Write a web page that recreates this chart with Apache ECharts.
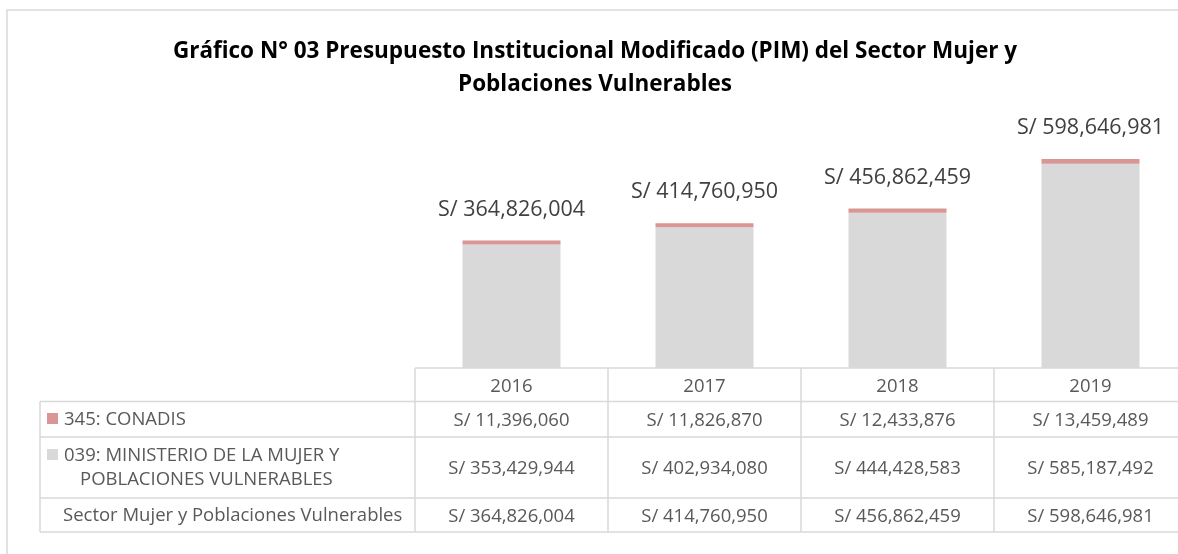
<!DOCTYPE html>
<html>
<head>
<meta charset="utf-8">
<script src="https://cdn.jsdelivr.net/npm/echarts@6/dist/echarts.min.js"></script>
<style>
html,body{margin:0;padding:0;background:#fff;overflow:hidden}
#main{width:1190px;height:554px}
</style>
</head>
<body>
<div id="main"></div>
<script>
const years = ['2016', '2017', '2018', '2019']
const conadis = [11396060, 11826870, 12433876, 13459489]
const ministerio = [353429944, 402934080, 444428583, 585187492]
const totals = [364826004, 414760950, 456862459, 598646981]
const rowNames = ['345: CONADIS', '039: MINISTERIO DE LA MUJER Y', 'POBLACIONES VULNERABLES', 'Sector Mujer y Poblaciones Vulnerables']

const font = 'Open Sans'
const gray = '#d9d9d9'
const pink = '#da9694'
const txt = '#595959'
const fmt = v => 'S/ ' + String(v).replace(/\B(?=(\d{3})+(?!\d))/g, ',')

const chart = echarts.init(document.getElementById('main'))

chart.setOption({
  animation: false,
  title: {
    text: 'Gráfico N° 03 Presupuesto Institucional Modificado (PIM) del Sector Mujer y\nPoblaciones Vulnerables',
    left: 'center',
    top: 30,
    textStyle: { fontFamily: font, fontSize: 22.5, fontWeight: 'bold', color: '#000', lineHeight: 33 }
  },
  grid: { left: 415, right: 3, top: 123.6, bottom: 186 },
  xAxis: {
    type: 'category',
    data: years,
    axisLine: { show: false },
    axisTick: { show: false },
    axisLabel: { show: false }
  },
  yAxis: {
    type: 'value',
    min: 0,
    max: 700000000,
    show: false,
    splitLine: { show: false }
  },
  series: [
    {
      name: '039: MINISTERIO DE LA MUJER Y POBLACIONES VULNERABLES',
      type: 'bar',
      stack: 'pim',
      barWidth: 98,
      itemStyle: { color: gray },
      data: ministerio
    },
    {
      name: '345: CONADIS',
      type: 'bar',
      stack: 'pim',
      barWidth: 98,
      itemStyle: { color: pink },
      label: {
        show: true,
        position: 'top',
        distance: 20,
        fontFamily: font,
        fontSize: 21.5,
        color: '#404040',
        formatter: p => fmt(totals[p.dataIndex])
      },
      data: conadis
    }
  ]
})

// data table under the bars
const xs = years.map(y => chart.convertToPixel({ xAxisIndex: 0 }, y))
const colW = xs[1] - xs[0]
const tabL = 40
const colL = xs[0] - colW / 2
const colR = xs[3] + colW / 2
const rowY = [368, 401.5, 437, 498, 532]
const g = []
const line = (x1, y1, x2, y2) => g.push({ type: 'line', shape: { x1, y1, x2, y2 }, style: { stroke: gray, lineWidth: 1.5 } })
const text = (t, x, y, align) => g.push({
  type: 'text',
  style: { text: t, x, y: y + 1.5, align: align || 'center', verticalAlign: 'middle', fill: txt, fontFamily: font, fontSize: 18.5 }
})

g.push({ type: 'rect', shape: { x: 7, y: 10, width: 1300, height: 700 }, style: { fill: 'none', stroke: gray, lineWidth: 1.5 } })

line(colL, rowY[0], colR, rowY[0])
for (let i = 1; i < rowY.length; i++) line(tabL, rowY[i], colR, rowY[i])
line(tabL, rowY[1], tabL, rowY[4])
for (let i = 0; i <= years.length; i++) line(colL + i * colW, rowY[0], colL + i * colW, rowY[4])

years.forEach((y, i) => {
  text(y, xs[i], 385)
  text(fmt(conadis[i]), xs[i], 419)
  text(fmt(ministerio[i]), xs[i], 467)
  text(fmt(totals[i]), xs[i], 515)
})

g.push({ type: 'rect', shape: { x: 47, y: 413, width: 11, height: 11 }, style: { fill: pink } })
g.push({ type: 'rect', shape: { x: 47, y: 449, width: 11, height: 11 }, style: { fill: gray } })
text(rowNames[0], 64, 418, 'left')
text(rowNames[1], 64, 454, 'left')
text(rowNames[2], 80, 478, 'left')
text(rowNames[3], 63, 514, 'left')

chart.setOption({ graphic: g })
</script>
</body>
</html>
